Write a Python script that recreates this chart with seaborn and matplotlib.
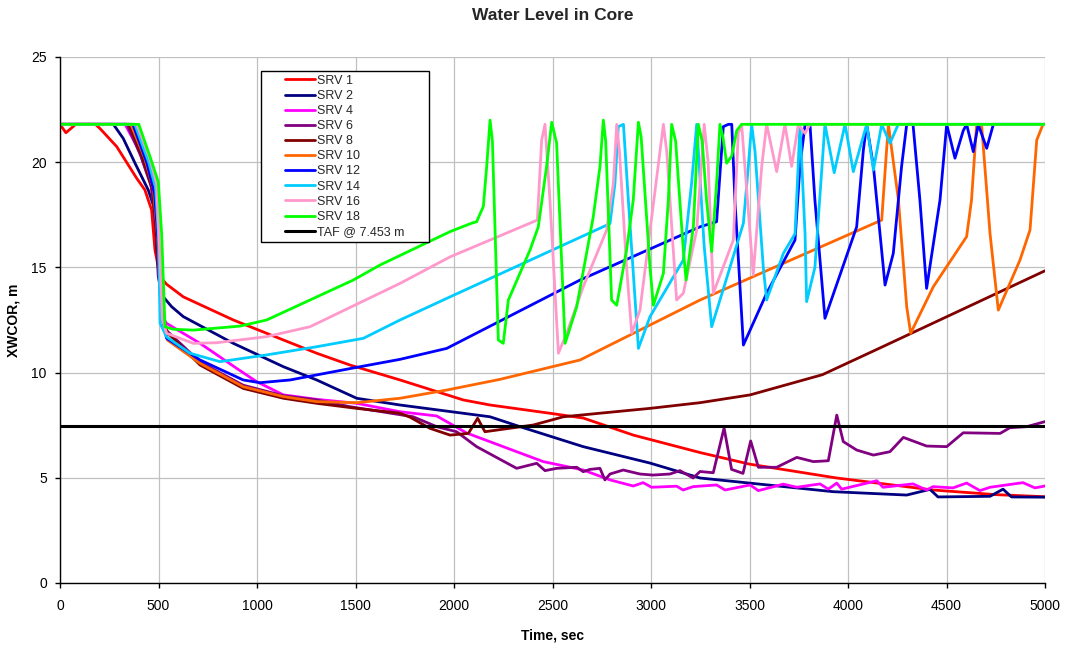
# Water level in core for the SRV cases, redrawn with seaborn.

import seaborn as sns
import numpy as np
import matplotlib.pyplot as plt
from matplotlib.lines import Line2D
from matplotlib.legend_handler import HandlerLine2D


# Series data (time in sec, level in m).
srv1_t = [0, 30, 80, 180, 203, 288, 389, 431, 465, 482, 508, 541, 626, 880, 1134, 1303, 1472, 1726,
          2047, 2183, 2500, 2656, 2910, 3249, 3500, 3943, 4432, 4750, 5000]
srv1_y = [21.8, 21.4, 21.8, 21.8, 21.6, 20.74, 19.24, 18.68, 17.73, 15.83, 14.56, 14.2, 13.6, 12.5, 11.55,
          10.92, 10.36, 9.65, 8.7, 8.46, 8.05, 7.84, 7.03, 6.2, 5.65, 4.99, 4.42, 4.2, 4.1]

srv2_t = [0, 271, 321, 381, 448, 482, 499, 516, 567, 626, 880, 1134, 1303, 1506, 1726, 2183, 2335, 2656,
          2995, 3249, 3925, 4298, 4416, 4457, 4721, 4787, 4830, 5000]
srv2_y = [21.8, 21.8, 21.13, 19.95, 18.68, 17.73, 14.56, 13.69, 13.13, 12.66, 11.39, 10.28, 9.65, 8.78,
          8.46, 7.9, 7.43, 6.48, 5.7, 4.99, 4.34, 4.18, 4.45, 4.09, 4.12, 4.46, 4.09, 4.08]

srv4_t = [0, 330, 400, 460, 485, 510, 530, 541, 711, 897, 998, 1134, 1303, 1506, 1726, 1912, 2064, 2267,
          2453, 2656, 2792, 2910, 2960, 3003, 3130, 3163, 3214, 3333, 3376, 3503, 3545, 3672, 3740, 3858,
          3900, 3943, 3968, 4146, 4178, 4330, 4399, 4432, 4533, 4602, 4670, 4721, 4888, 4949, 5000]
srv4_y = [21.8, 21.8, 20.6, 19.0, 17.5, 13.5, 12.5, 12.34, 11.39, 10.2, 9.57, 8.94, 8.73, 8.54, 8.14,
          7.94, 7.13, 6.42, 5.77, 5.37, 4.9, 4.61, 4.77, 4.55, 4.6, 4.42, 4.58, 4.66, 4.42, 4.66, 4.39,
          4.7, 4.55, 4.71, 4.46, 4.75, 4.46, 4.86, 4.55, 4.71, 4.42, 4.58, 4.52, 4.75, 4.39, 4.55, 4.77,
          4.52, 4.61]

srv6_t = [0, 340, 410, 465, 490, 515, 541, 711, 930, 1134, 1303, 1472, 1793, 1912, 2013, 2115, 2318, 2420,
          2462, 2521, 2623, 2656, 2690, 2741, 2766, 2792, 2859, 2944, 3010, 3096, 3147, 3214, 3249, 3316,
          3371, 3409, 3467, 3506, 3545, 3638, 3740, 3824, 3900, 3943, 3976, 4044, 4129, 4213, 4281, 4399,
          4501, 4585, 4772, 4822, 4907, 5000]
srv6_y = [21.8, 21.8, 20.3, 18.8, 16.5, 13.0, 12.0, 10.5, 9.4, 8.9, 8.7, 8.38, 7.9, 7.43, 7.19, 6.48,
          5.45, 5.69, 5.34, 5.45, 5.5, 5.29, 5.4, 5.45, 4.9, 5.18, 5.37, 5.18, 5.13, 5.18, 5.34, 4.99, 5.3,
          5.24, 7.37, 5.4, 5.21, 6.75, 5.5, 5.5, 5.97, 5.77, 5.81, 7.98, 6.72, 6.32, 6.08, 6.24, 6.92, 6.51,
          6.48, 7.14, 7.11, 7.38, 7.43, 7.67]

srv8_t = [0, 350, 420, 470, 495, 520, 545, 711, 930, 1134, 1303, 1506, 1726, 1777, 1878, 1980, 2073, 2120,
          2157, 2403, 2555, 2741, 2995, 3249, 3503, 3870, 4146, 5000]
srv8_y = [21.8, 21.8, 20.2, 18.7, 16.0, 12.5, 11.9, 10.36, 9.25, 8.78, 8.54, 8.3, 8.07, 7.88, 7.35, 7.03,
          7.11, 7.83, 7.19, 7.51, 7.9, 8.07, 8.3, 8.57, 8.94, 9.9, 11.1, 14.84]

srv10_t = [0, 360, 430, 475, 495, 520, 545, 711, 930, 1134, 1303, 1506, 1726, 1963, 2234, 2640, 3249,
           4171, 4205, 4256, 4298, 4318, 4433, 4602, 4627, 4653, 4678, 4721, 4763, 4873, 4924, 4958, 4990,
           5000]
srv10_y = [21.8, 21.8, 20.2, 18.7, 16.5, 13.0, 11.55, 10.44, 9.33, 8.86, 8.62, 8.57, 8.78, 9.17, 9.68,
           10.6, 13.45, 17.25, 21.8, 18.2, 13.13, 11.87, 14.08, 16.46, 18.2, 21.8, 21.8, 16.6, 12.97, 15.35,
           16.78, 21.05, 21.8, 21.8]

srv12_t = [0, 370, 440, 480, 500, 520, 541, 711, 930, 1015, 1168, 1303, 1506, 1726, 1963, 2640, 3249,
           3333, 3367, 3393, 3410, 3426, 3469, 3587, 3731, 3756, 3782, 3807, 3832, 3883, 4044, 4078, 4095,
           4129, 4188, 4230, 4272, 4298, 4330, 4365, 4399, 4467, 4501, 4543, 4585, 4602, 4636, 4661, 4704,
           4738, 5000]
srv12_y = [21.8, 21.8, 20.0, 18.5, 16.0, 12.5, 11.63, 10.6, 9.65, 9.52, 9.65, 9.89, 10.25, 10.63, 11.15,
           14.4, 16.93, 17.17, 21.69, 21.8, 21.8, 18.2, 11.31, 13.77, 16.3, 19.8, 21.8, 21.8, 18.2, 12.58,
           16.93, 20.58, 21.8, 19.8, 14.16, 15.67, 19.8, 21.8, 21.8, 18.2, 14.0, 18.2, 21.8, 20.19, 21.5,
           21.8, 20.5, 21.8, 20.66, 21.8, 21.8]

srv14_t = [0, 380, 450, 485, 500, 508, 541, 660, 812, 1049, 1303, 1540, 1726, 1980, 2792, 2817, 2834,
           2860, 2885, 2936, 2995, 3164, 3206, 3232, 3270, 3308, 3376, 3469, 3494, 3511, 3528, 3570, 3587,
           3672, 3731, 3747, 3756, 3782, 3790, 3832, 3883, 3930, 3985, 4027, 4095, 4129, 4171, 4213, 4255,
           5000]
srv14_y = [21.8, 21.8, 20.0, 18.8, 16.5, 12.34, 11.7, 10.92, 10.52, 10.84, 11.23, 11.63, 12.5, 13.6,
           17.08, 19.0, 21.69, 21.8, 18.2, 11.15, 12.66, 15.35, 19.0, 21.8, 16.0, 12.18, 14.24, 17.1, 19.8,
           21.8, 20.5, 15.0, 13.45, 15.67, 16.6, 19.8, 21.8, 16.6, 13.37, 15.0, 21.8, 19.5, 21.8, 19.55,
           21.8, 19.63, 21.8, 20.9, 21.8, 21.8]

srv16_t = [0, 390, 455, 490, 505, 520, 541, 677, 795, 1049, 1269, 1726, 1980, 2403, 2423, 2445, 2462,
           2487, 2530, 2572, 2656, 2775, 2809, 2826, 2840, 2876, 2902, 2944, 3063, 3080, 3130, 3164, 3232,
           3270, 3290, 3316, 3418, 3443, 3460, 3503, 3519, 3562, 3587, 3638, 3680, 3714, 3748, 3782, 3807,
           5000]
srv16_y = [21.8, 21.8, 20.2, 19.0, 16.0, 12.5, 11.87, 11.39, 11.42, 11.71, 12.18, 14.24, 15.5, 17.17,
           17.25, 21.05, 21.8, 18.2, 10.92, 11.87, 14.08, 16.78, 19.0, 21.8, 20.5, 15.03, 11.87, 12.97, 21.8,
           20.5, 13.45, 13.77, 16.78, 21.8, 20.0, 13.77, 16.3, 21.37, 21.8, 16.6, 14.64, 19.8, 21.8, 19.55,
           21.8, 19.8, 21.8, 21.37, 21.8, 21.8]

srv18_t = [0, 400, 457, 499, 516, 533, 575, 677, 914, 1049, 1489, 1624, 1980, 2089, 2115, 2149, 2166,
           2183, 2195, 2225, 2250, 2276, 2386, 2428, 2470, 2496, 2521, 2564, 2623, 2707, 2741, 2758, 2770,
           2800, 2826, 2876, 2910, 2936, 2950, 2995, 3012, 3063, 3088, 3105, 3125, 3164, 3178, 3215, 3240,
           3260, 3282, 3308, 3333, 3350, 3365, 3384, 3410, 3435, 3460, 5000]
srv18_y = [21.8, 21.8, 20.26, 19.07, 16.6, 12.18, 12.06, 12.02, 12.21, 12.5, 14.4, 15.11, 16.7, 17.1,
           17.17, 17.9, 19.8, 22.0, 21.0, 11.55, 11.39, 13.45, 15.83, 16.93, 19.8, 21.9, 20.9, 11.39, 13.13,
           17.41, 19.8, 22.0, 21.0, 13.45, 13.2, 15.83, 18.2, 21.9, 21.2, 15.0, 13.2, 14.72, 18.2, 21.8,
           21.0, 15.83, 14.4, 16.93, 21.8, 21.0, 18.2, 15.75, 19.0, 21.8, 21.2, 19.95, 20.3, 21.5, 21.8, 21.8]

taf_t = [0, 5000]
taf_y = [7.453, 7.453]

names = ["SRV 1", "SRV 2", "SRV 4", "SRV 6", "SRV 8", "SRV 10", "SRV 12", "SRV 14", "SRV 16", "SRV 18",
         "TAF @ 7.453 m"]
colors = ["#FF0000", "#000080", "#FF00FF", "#800080", "#800000", "#FF6600", "#0000FF", "#00CCFF",
          "#FF99CC", "#00FF00", "#000000"]

series = [(srv1_t, srv1_y), (srv2_t, srv2_y), (srv4_t, srv4_y), (srv6_t, srv6_y), (srv8_t, srv8_y),
          (srv10_t, srv10_y), (srv12_t, srv12_y), (srv14_t, srv14_y), (srv16_t, srv16_y),
          (srv18_t, srv18_y), (taf_t, taf_y)]

sns.set_theme(style="white")
plt.rcParams["font.family"] = ["Liberation Sans", "DejaVu Sans"]

fig = plt.figure(figsize=(10.65, 6.48), dpi=100)
ax = fig.add_axes([60 / 1065, 65 / 648, 985 / 1065, 526 / 648])

for (t, y), name, c in zip(series, names, colors):
    lw = 2.2 if name.startswith("TAF") else 2.0
    sns.lineplot(x=np.array(t), y=np.array(y), color=c, lw=lw, label=name, ax=ax,
                 estimator=None, sort=False)

ax.set_xlim(0, 5000)
ax.set_ylim(0, 25)
ax.set_xticks(np.arange(0, 5001, 500))
ax.set_yticks(np.arange(0, 26, 5))
ax.grid(True, color="#C0C0C0", linewidth=0.9)
ax.set_axisbelow(True)

for side in ["top", "right"]:
    ax.spines[side].set_visible(False)
for side in ["left", "bottom"]:
    ax.spines[side].set_color("black")
    ax.spines[side].set_linewidth(1.0)

ax.tick_params(axis="both", direction="out", length=3.5, width=1, color="black", labelsize=10,
               labelcolor="black")
ax.tick_params(axis="x", pad=8, bottom=True)
ax.tick_params(axis="y", pad=6, left=True)

ax.set_xlabel("Time, sec", fontsize=10, fontweight="bold", color="black")
ax.set_ylabel("XWCOR, m", fontsize=10, fontweight="bold", color="black")
ax.xaxis.set_label_coords(0.5, (583 - 635) / 526)
ax.xaxis.label.set_va("center")
ax.yaxis.set_label_coords((14 - 60) / 985, 0.5)
ax.yaxis.label.set_va("center")

ax.set_title("Water Level in Core", fontsize=12.5, fontweight="bold", pad=26.5)

# legend box placed like the original: fixed width, entries left aligned
leg_x0 = (261 - 60) / 985
leg_w = (429 - 261) / 985
leg_top = (583 - 71) / 526
leg_bottom = (583 - 242) / 526
leg = ax.legend(loc="upper left", bbox_to_anchor=(leg_x0, leg_bottom, leg_w, leg_top - leg_bottom),
                mode="expand", borderaxespad=0, fontsize=9, frameon=True, fancybox=False,
                shadow=False, framealpha=1, edgecolor="black", borderpad=0.3, labelspacing=0.25,
                handlelength=4.0, handletextpad=0.15,
                handler_map={Line2D: HandlerLine2D(xpad=1.6)})
leg.get_frame().set_linewidth(1.0)

plt.savefig("out.png", dpi=100)
plt.close()
